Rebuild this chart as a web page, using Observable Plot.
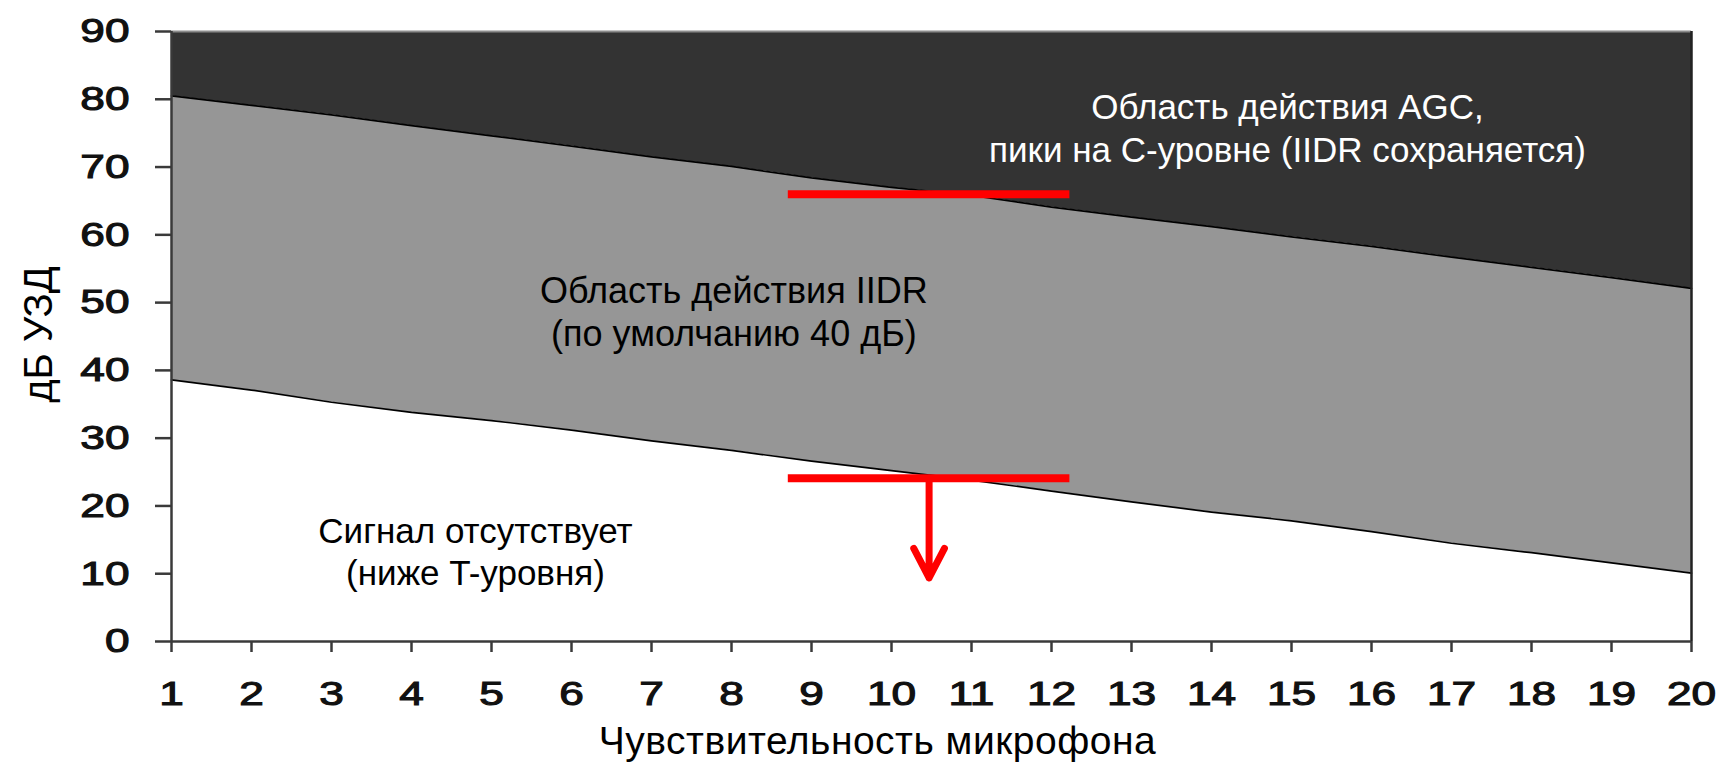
<!DOCTYPE html>
<html><head><meta charset="utf-8">
<script src="https://cdn.jsdelivr.net/npm/d3@7"></script>
<script src="https://cdn.jsdelivr.net/npm/@observablehq/plot@0.6"></script>
<style>
html,body{margin:0;padding:0;background:#fff;}
</style></head><body><div id="chart"></div>
<script>
// Microphone sensitivity settings (x)
const sensitivity = [1,2,3,4,5,6,7,8,9,10,11,12,13,14,15,16,17,18,19,20];
// Lower boundary of IIDR (T-level), dB SPL
const tLevel = [38.6, 37.1, 35.3, 33.8, 32.6, 31.2, 29.6, 28.2, 26.6, 25.2, 23.8, 22.2, 20.6, 19.1, 17.8, 16.2, 14.5, 13.1, 11.6, 10.1];
// Upper boundary of IIDR (C-level), dB SPL
const cLevel = [80.5, 79.1, 77.7, 76.1, 74.6, 73.1, 71.5, 70.1, 68.4, 67.0, 65.8, 64.1, 62.6, 61.2, 59.7, 58.3, 56.7, 55.2, 53.7, 52.1];
const yMax = 90;
const xTicks = [1,2,3,4,5,6,7,8,9,10,11,12,13,14,15,16,17,18,19,20];
const yTicks = [0,10,20,30,40,50,60,70,80,90];
// Red marker levels (C and T at the selected sensitivity) and arrow target
const markerRange = [8.71, 12.23];
const markerLevels = [66.0, 24.1];
const arrowX = 10.47;
const arrowTo = 9.4;
const regionLabels = [
  "Область действия AGC,\nпики на C-уровне (IIDR сохраняется)",
  "Область действия IIDR\n(по умолчанию 40 дБ)",
  "Сигнал отсутствует\n(ниже T-уровня)"
];
const xTitle = "Чувствительность микрофона";
const yTitle = "дБ УЗД";

const rows = sensitivity.map((s, i) => ({s, t: tLevel[i], c: cLevel[i]}));
const axisColor = "#3a3a3a";
const labelFont = "'Liberation Sans', Arial, sans-serif";

const chart = Plot.plot({
  width: 1722, height: 763,
  marginLeft: 171, marginRight: 31, marginTop: 31, marginBottom: 122,
  x: {domain: [1, 20]},
  y: {domain: [0, 90]},
  style: {fontFamily: labelFont, fontSize: "34px", fontWeight: "normal", background: "#fff", color: "#111", overflow: "visible"},
  marks: [
    Plot.areaY(rows, {x: "s", y1: "c", y2: () => yMax, fill: "#333333"}),
    Plot.areaY(rows, {x: "s", y1: "t", y2: "c", fill: "#969696"}),
    Plot.lineY(rows, {x: "s", y: "c", stroke: "#000", strokeWidth: 1.7}),
    Plot.lineY(rows, {x: "s", y: "t", stroke: "#000", strokeWidth: 1.7}),
    Plot.ruleY([yMax], {stroke: "#8c8c8c", strokeWidth: 2}),
    Plot.ruleX([20], {stroke: "#222", strokeWidth: 2.5}),
    Plot.ruleX([1], {stroke: axisColor, strokeWidth: 2.5}),
    Plot.ruleY([0], {stroke: axisColor, strokeWidth: 2.5}),
    Plot.axisX({ticks: xTicks, tickSize: 11, tickPadding: 28, stroke: axisColor, strokeWidth: 2.5, label: null, tickFormat: d => String(d)}),
    Plot.axisY({ticks: yTicks, tickSize: 16, tickPadding: 26, stroke: axisColor, strokeWidth: 2.5, label: null, tickFormat: d => String(d)}),
    Plot.ruleY(markerLevels, {x1: markerRange[0], x2: markerRange[1], stroke: "#ff0000", strokeWidth: 8}),
    Plot.arrow([{x: arrowX, y1: markerLevels[1], y2: arrowTo}], {x1: "x", x2: "x", y1: "y1", y2: "y2", stroke: "#ff0000", strokeWidth: 7, headAngle: 55, headLength: 8, strokeLinecap: "round", strokeLinejoin: "round"}),
    Plot.text([{x: 14.95, y: 76.0, text: regionLabels[0]}], {x: "x", y: "y", text: "text", fill: "#fff", fontSize: 35, fontFamily: labelFont, fontWeight: "normal", lineHeight: 1.23}),
    Plot.text([{x: 8.03, y: 48.8, text: regionLabels[1]}], {x: "x", y: "y", text: "text", fill: "#000", fontSize: 36, fontFamily: labelFont, fontWeight: "normal", lineHeight: 1.2}),
    Plot.text([{x: 4.8, y: 13.4, text: regionLabels[2]}], {x: "x", y: "y", text: "text", fill: "#000", fontSize: 35, fontFamily: labelFont, fontWeight: "normal", lineHeight: 1.2}),
    Plot.text([xTitle], {frameAnchor: "bottom", textAnchor: "middle", lineAnchor: "middle", dx: -54, dy: 100, fill: "#000", fontSize: 39, fontFamily: labelFont, fontWeight: "normal"}),
    Plot.text([yTitle], {frameAnchor: "left", textAnchor: "middle", lineAnchor: "middle", rotate: -90, dx: -132, dy: -2, fill: "#000", fontSize: 40, fontFamily: labelFont, fontWeight: "normal"})
  ]
});
document.getElementById("chart").appendChild(chart);
chart.querySelectorAll('g[aria-label="text"] text').forEach(t => {
  if (t.textContent === xTitle) t.style.letterSpacing = "0.5px";
});

// widen tick numerals to match the reference's extended, semi-bold digits
function stretch(selector, s) {
  chart.querySelectorAll(selector).forEach(t => {
    const b = t.getBBox();
    const anchor = getComputedStyle(t).textAnchor;
    const cx = anchor === "end" ? b.x + b.width : anchor === "start" ? b.x : b.x + b.width / 2;
    const tr = t.getAttribute("transform") || "";
    t.setAttribute("transform", `${tr} translate(${cx},0) scale(${s},1) translate(${-cx},0)`);
    t.style.stroke = "#111";
    t.style.strokeWidth = "1.1px";
    t.style.paintOrder = "stroke";
  });
}
stretch('g[aria-label="x-axis tick label"] text', 1.3);
stretch('g[aria-label="y-axis tick label"] text', 1.3);
</script>
</body></html>
